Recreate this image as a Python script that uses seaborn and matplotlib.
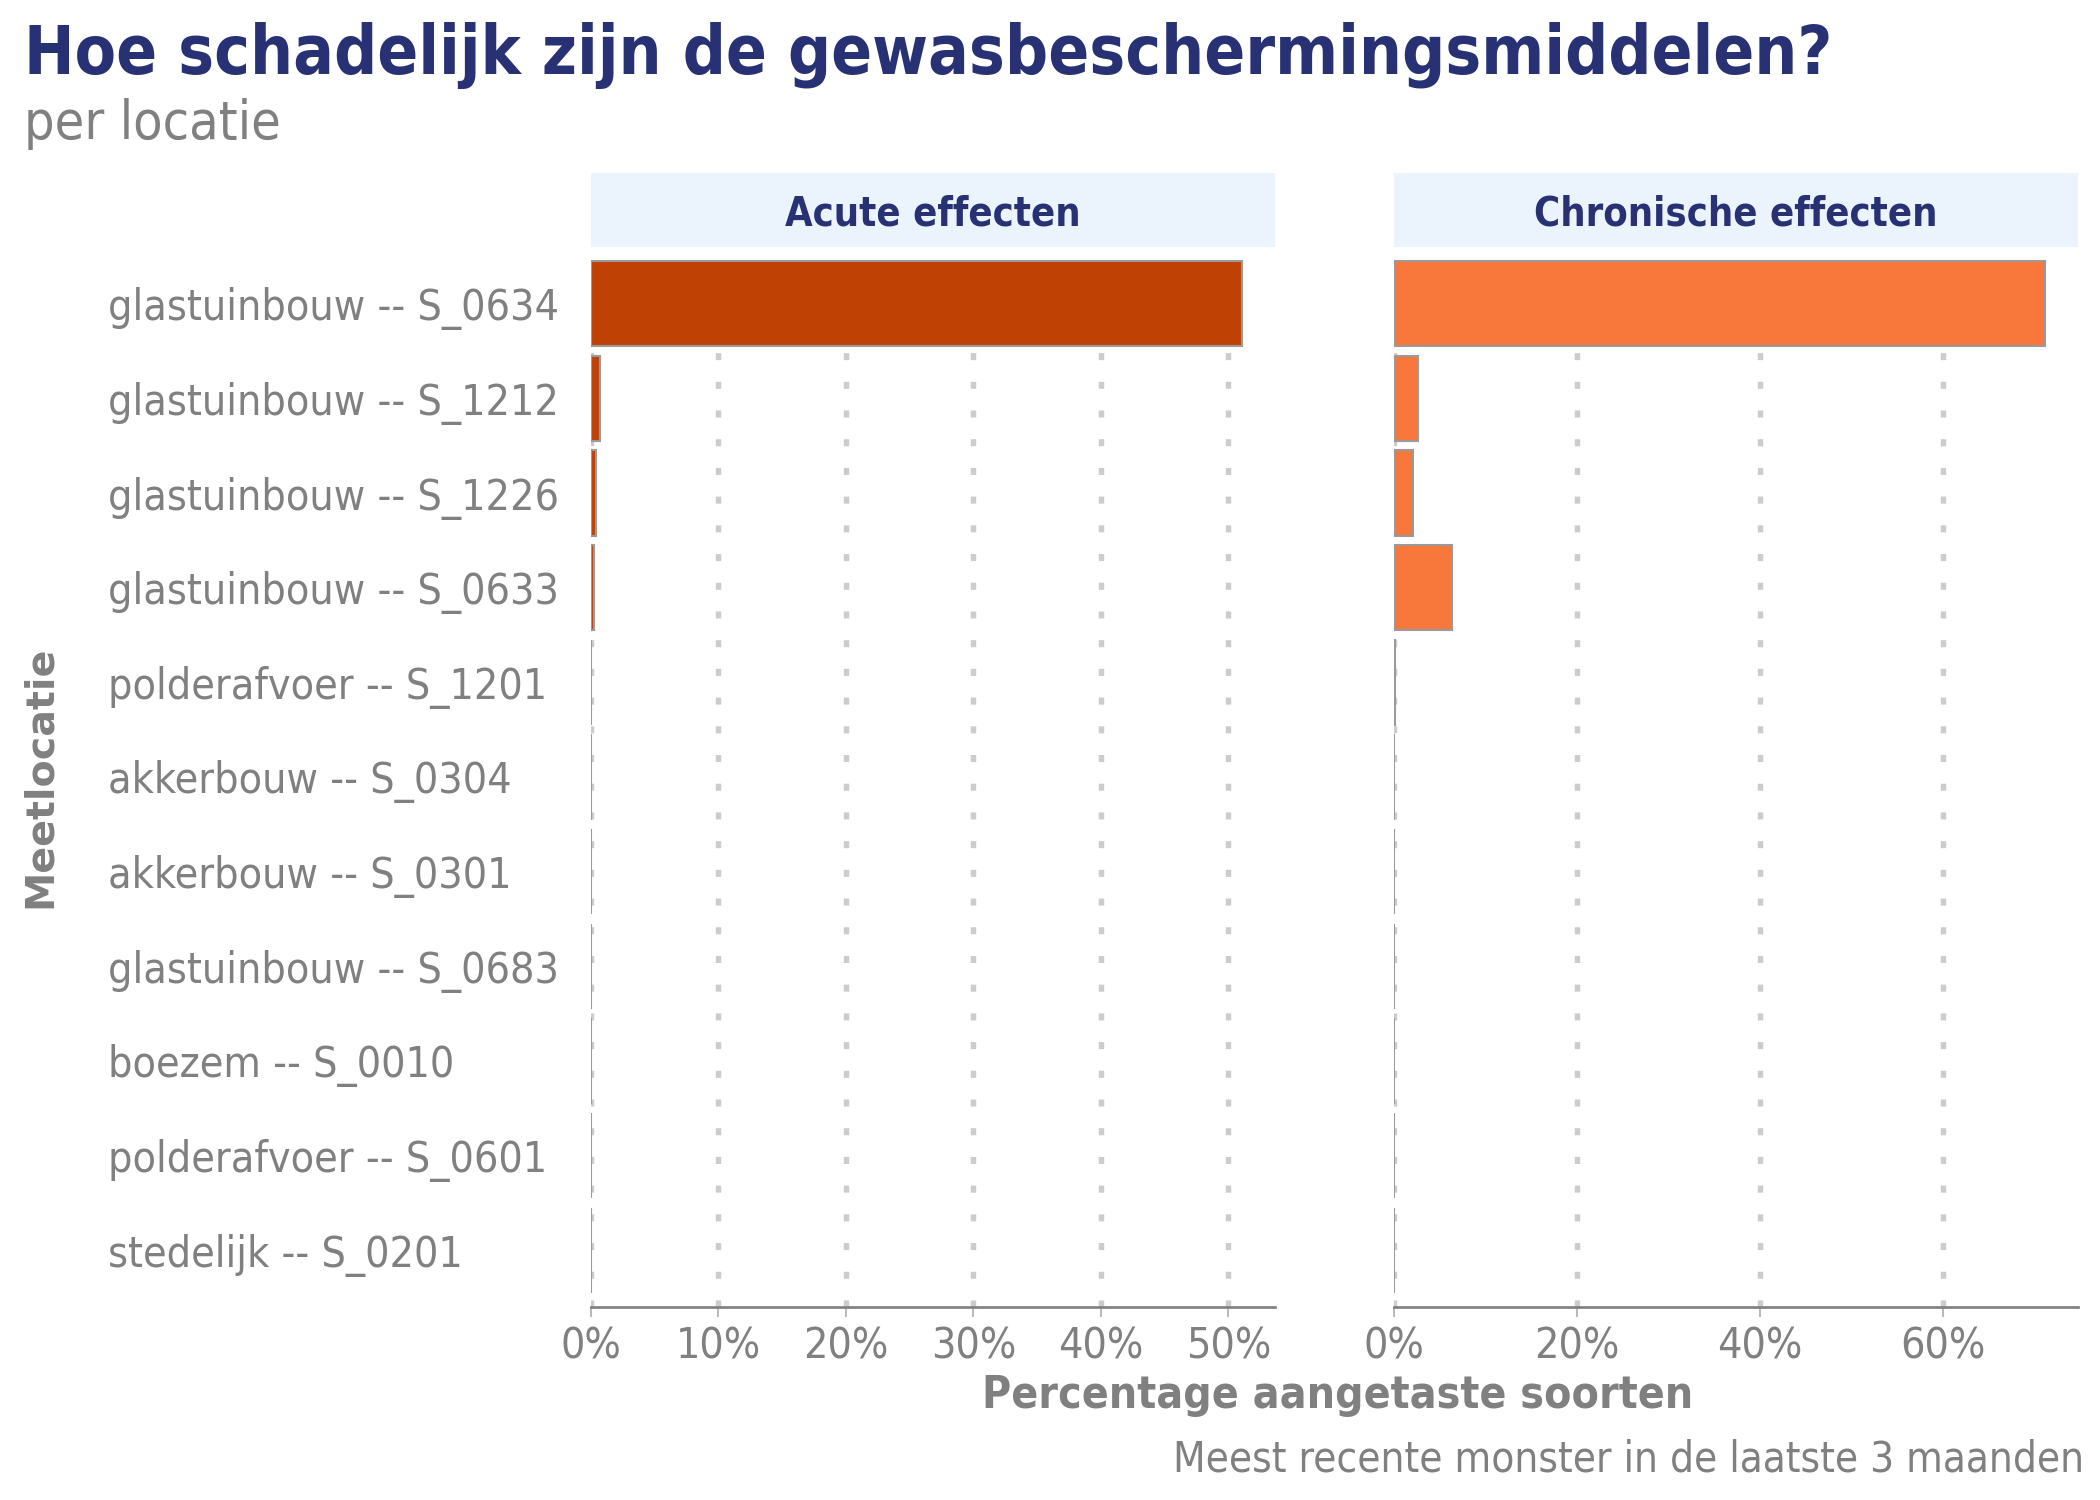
import numpy as np
import pandas as pd
import matplotlib
matplotlib.use("Agg")
import matplotlib.pyplot as plt
import seaborn as sns
from matplotlib import font_manager as fm
from matplotlib.patches import Rectangle
from matplotlib.ticker import FixedLocator, FuncFormatter

# ---------------- data ----------------
locaties = [
    "glastuinbouw -- S_0634",
    "glastuinbouw -- S_1212",
    "glastuinbouw -- S_1226",
    "glastuinbouw -- S_0633",
    "polderafvoer -- S_1201",
    "akkerbouw -- S_0304",
    "akkerbouw -- S_0301",
    "glastuinbouw -- S_0683",
    "boezem -- S_0010",
    "polderafvoer -- S_0601",
    "stedelijk -- S_0201",
]
acuut = [51.1, 0.7, 0.4, 0.2, 0.02, 0.01, 0.01, 0.01, 0.01, 0.01, 0.0]
chronisch = [71.2, 2.6, 2.1, 6.3, 0.1, 0.02, 0.01, 0.01, 0.01, 0.01, 0.0]
panel_titels = ["Acute effecten", "Chronische effecten"]
acuut_ticks = [0, 10, 20, 30, 40, 50]
chronisch_ticks = [0, 20, 40, 60]

titel = "Hoe schadelijk zijn de gewasbeschermingsmiddelen?"
subtitel = "per locatie"
x_label = "Percentage aangetaste soorten"
y_label = "Meetlocatie"
bijschrift = "Meest recente monster in de laatste 3 maanden"

# ---------------- style ----------------
NAVY = "#283173"
GRAY = "#808080"
STRIP = "#EBF4FD"
C_ACUUT = "#BF4104"
C_CHRON = "#F8773A"

sns.set_theme(style="white")

entries = fm.fontManager.ttflist
names = {e.name for e in entries}
stretch = "normal"
if "Liberation Sans Narrow" in names:
    fam = "Liberation Sans Narrow"
elif any(e.name == "DejaVu Sans" and str(e.stretch) in ("condensed", "semi-condensed") for e in entries):
    fam = "DejaVu Sans"
    stretch = "condensed"
elif "Roboto Condensed" in names:
    fam = "Roboto Condensed"
else:
    fam = "Roboto"
plt.rcParams["font.family"] = [fam, "DejaVu Sans"]
plt.rcParams["font.stretch"] = stretch

W, H = 2100, 1500
fig = plt.figure(figsize=(14, 10), dpi=150)
fig.patch.set_facecolor("white")


def fx(px):
    return px / W


def fy(py):
    return 1 - py / H


L1, R1, L2, R2, TOP, BOT = 591, 1275, 1394, 2078, 247, 1307
STRIP_TOP = 173
LABEL_LEFT = 108

ax1 = fig.add_axes([fx(L1), fy(BOT), (R1 - L1) / W, (BOT - TOP) / H])
ax2 = fig.add_axes([fx(L2), fy(BOT), (R2 - L2) / W, (BOT - TOP) / H])

renderer = fig.canvas.get_renderer()


def fit(t, target, use_height=False):
    bb = t.get_window_extent(renderer)
    w = bb.height if use_height else bb.width
    t.set_fontsize(t.get_fontsize() * target / w)
    return t.get_fontsize()


# measure tick label size
tmp = fig.text(0, 0, "glastuinbouw -- S_0634", fontsize=20)
tick_fs = fit(tmp, 450)
tmp.remove()

df_a = pd.DataFrame({"locatie": locaties, "waarde": acuut})
df_c = pd.DataFrame({"locatie": locaties, "waarde": chronisch})

panels = [
    (ax1, df_a, C_ACUUT, acuut_ticks, max(acuut)),
    (ax2, df_c, C_CHRON, chronisch_ticks, max(chronisch)),
]
for ax, df, col, ticks, vmax in panels:
    sns.barplot(data=df, x="waarde", y="locatie", order=locaties, color=col,
                saturation=1, edgecolor="#9A9A9A", linewidth=1.0, width=0.9,
                ax=ax, zorder=3)
    ax.set_xlim(0, vmax * 1.05)
    ax.set_ylim(len(locaties) - 0.4, -0.6)
    ax.xaxis.set_major_locator(FixedLocator(ticks))
    ax.xaxis.set_major_formatter(FuncFormatter(lambda v, _: f"{v:.0f}%"))
    ax.set_xlabel("")
    ax.set_ylabel("")
    for s in ["left", "top", "right"]:
        ax.spines[s].set_visible(False)
    ax.spines["bottom"].set_color(GRAY)
    ax.spines["bottom"].set_linewidth(1.3)
    ax.grid(axis="x", color="#CCCCCC", linewidth=2.6, linestyle=(0, (1.3, 4)))
    ax.grid(axis="y", visible=False)
    ax.set_axisbelow(True)
    ax.set_facecolor("white")
    ax.tick_params(axis="x", bottom=True, direction="out", length=4.8, width=1.0,
                   color="#BBBBBB", labelcolor=GRAY, labelsize=tick_fs, pad=4)
    ax.tick_params(axis="y", left=False, length=0, labelcolor=GRAY,
                   labelsize=tick_fs)

# left-aligned category labels
pad_pt = (L1 - LABEL_LEFT) * 72 / 150
ax1.tick_params(axis="y", pad=pad_pt)
plt.setp(ax1.get_yticklabels(), ha="left")
ax2.tick_params(axis="y", labelleft=False)

# strips
strip_texts = []
for (L, R), lab in zip([(L1, R1), (L2, R2)], panel_titels):
    fig.add_artist(Rectangle((fx(L), fy(TOP)), (R - L) / W, (TOP - STRIP_TOP) / H,
                             transform=fig.transFigure, facecolor=STRIP,
                             edgecolor="none", zorder=0))
    t = fig.text(fx((L + R) / 2), fy(225), lab, ha="center", va="baseline",
                 color=NAVY, fontweight="bold", fontsize=16)
    strip_texts.append(t)
sfs = fit(strip_texts[0], 296)
strip_texts[1].set_fontsize(sfs)

# titles
t = fig.text(fx(24), fy(74), titel, ha="left", va="baseline", color=NAVY,
             fontweight="bold", fontsize=30)
fit(t, 1811)
t = fig.text(fx(24), fy(139), subtitel, ha="left", va="baseline", color=GRAY,
             fontsize=18)
fit(t, 257)

# axis labels and caption
t = fig.text(fx(1338), fy(1408), x_label, ha="center", va="baseline", color=GRAY,
             fontweight="bold", fontsize=18)
fit(t, 712)
t = fig.text(fx(40), fy(777), y_label, ha="center", va="center", rotation=90,
             color=GRAY, fontweight="bold", fontsize=16, family="DejaVu Sans",
             fontstretch="normal")
fit(t, 262, use_height=True)
t = fig.text(fx(2084), fy(1471), bijschrift, ha="right", va="baseline", color=GRAY,
             fontsize=16)
fit(t, 915)

fig.savefig("out.png", dpi=150, facecolor="white")
